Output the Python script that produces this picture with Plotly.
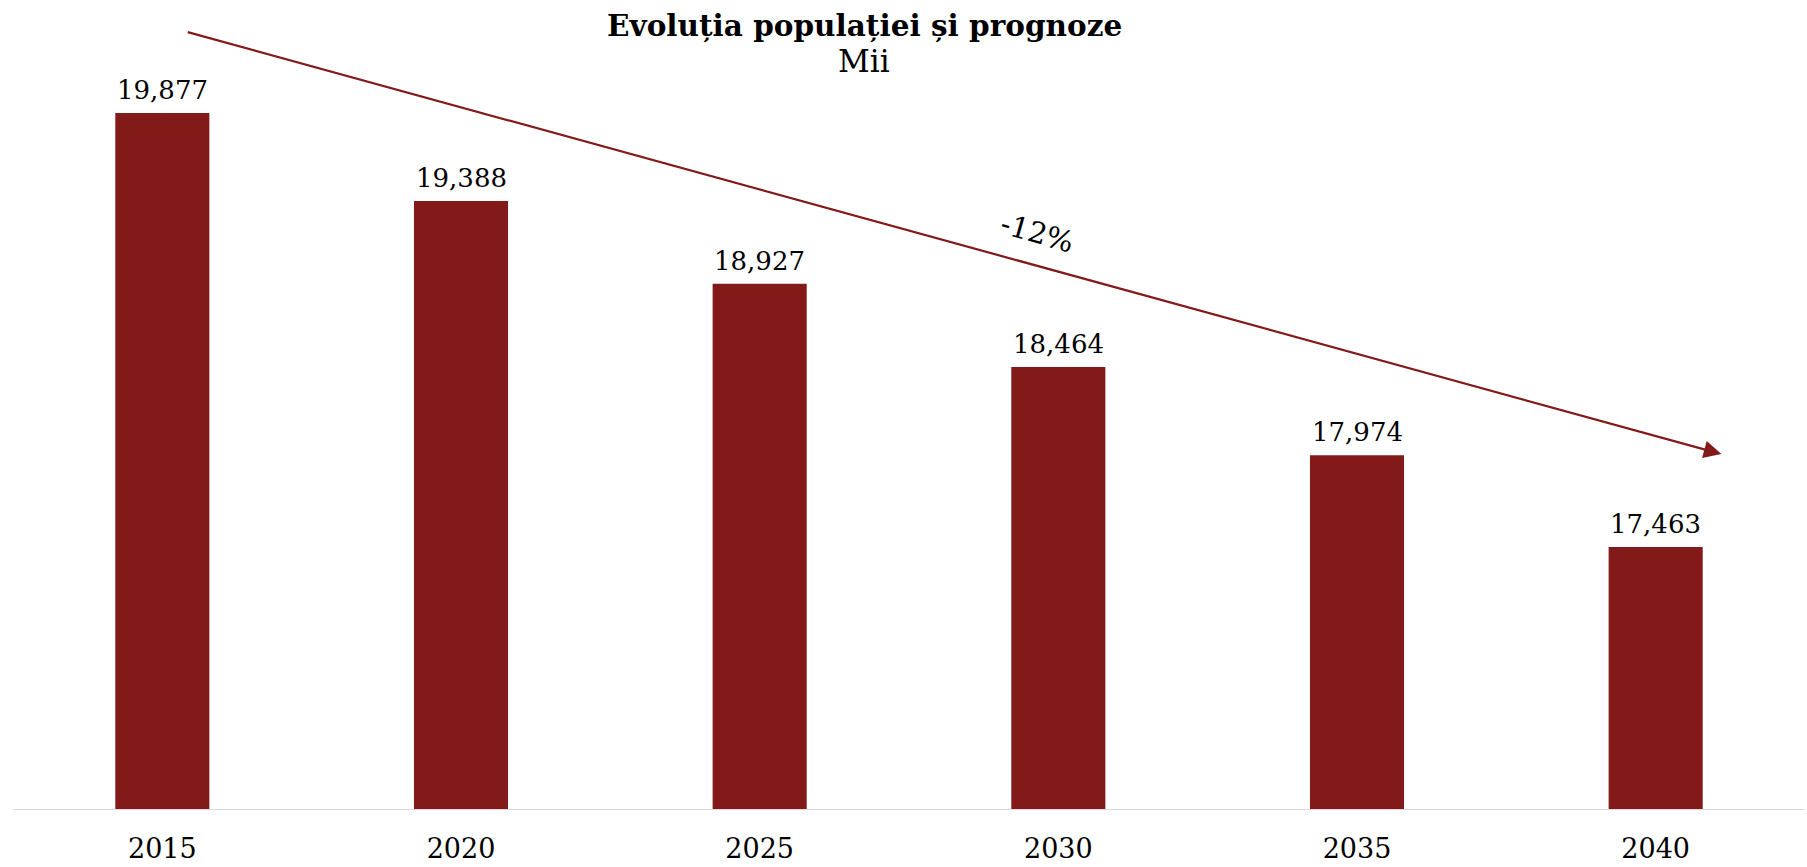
import plotly.graph_objects as go

years = ["2015", "2020", "2025", "2030", "2035", "2040"]
population = [19877, 19388, 18927, 18464, 17974, 17463]

title_text = "<b>Evoluția populației și prognoze</b>"
subtitle_text = "Mii"

BAR_COLOR = "#831A1A"
FONT = "Georgia, 'DejaVu Serif', serif"

x_pos = list(range(len(years)))
change = round((population[-1] - population[0]) / population[0] * 100)

fig = go.Figure()
fig.add_trace(go.Bar(
    x=x_pos, y=population,
    marker=dict(color=BAR_COLOR, line=dict(width=0)),
    width=0.315,
    cliponaxis=False,
    hoverinfo="skip",
))

for xi, v in zip(x_pos, population):
    fig.add_annotation(
        x=xi, y=v, xref="x", yref="y", text=f"{v:,}", showarrow=False,
        yanchor="bottom", yshift=6,
        font=dict(family=FONT, size=26, color="#000000"),
    )

# trend arrow in data coordinates
fig.add_annotation(
    x=5.22, y=17980, ax=0.08, ay=20330,
    xref="x", yref="y", axref="x", ayref="y",
    showarrow=True, arrowhead=2, arrowsize=1.6, arrowwidth=2.2,
    arrowcolor=BAR_COLOR, text="",
)
fig.add_annotation(
    x=2.93, y=19209, xref="x", yref="y",
    text=f"{change}%", showarrow=False, textangle=16,
    font=dict(family=FONT, size=29, color="#000000"),
)

fig.add_annotation(
    x=0.475, y=1.0, xref="paper", yref="paper", yshift=66,
    text=title_text, showarrow=False, yanchor="middle",
    font=dict(family=FONT, size=29.5, color="#000000"),
)
fig.add_annotation(
    x=0.475, y=1.0, xref="paper", yref="paper", yshift=30,
    text=subtitle_text, showarrow=False, yanchor="middle",
    font=dict(family=FONT, size=31, color="#000000"),
)

fig.update_layout(
    width=1807, height=867,
    margin=dict(l=13, r=2, t=91, b=57),
    paper_bgcolor="white", plot_bgcolor="white",
    showlegend=False,
    xaxis=dict(
        range=[-0.5, 5.5], tickvals=x_pos, ticktext=years,
        showgrid=False, zeroline=False, showline=False,
        ticks="", ticklabelstandoff=20,
        tickfont=dict(family=FONT, size=27, color="#000000"),
    ),
    yaxis=dict(
        range=[16000, 20000], visible=False, showgrid=False, zeroline=False,
    ),
    shapes=[dict(type="line", xref="paper", yref="y", x0=0, x1=1,
                 y0=16000, y1=16000, line=dict(color="#d9d9d9", width=2))],
)

fig.write_html(
    "out.html",
    config={"displayModeBar": False},
    post_script="document.body.style.margin='0';document.body.style.overflow='hidden';",
)
